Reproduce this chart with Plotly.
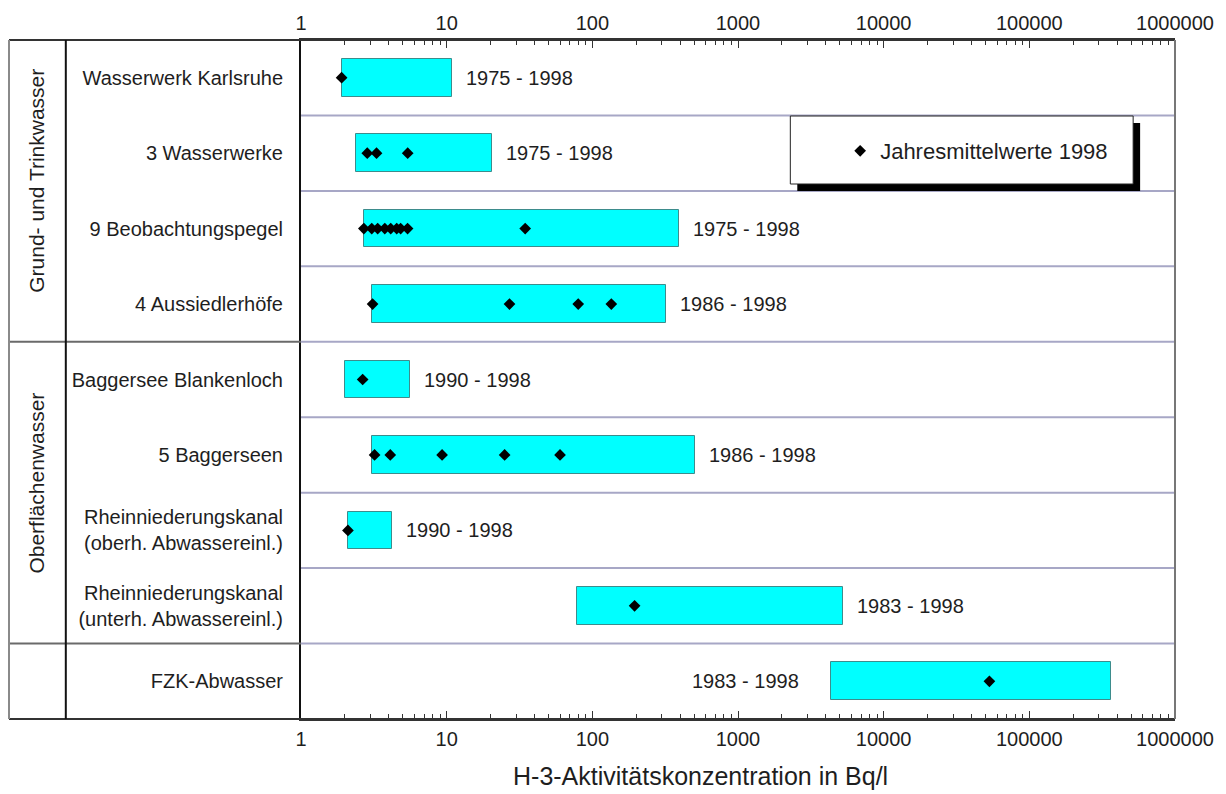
import math
import plotly.graph_objects as go

# Sampling sites (top to bottom)
categories = [
    "Wasserwerk Karlsruhe",
    "3 Wasserwerke",
    "9 Beobachtungspegel",
    "4 Aussiedlerhöfe",
    "Baggersee Blankenloch",
    "5 Baggerseen",
    "Rheinniederungskanal<br>(oberh. Abwassereinl.)",
    "Rheinniederungskanal<br>(unterh. Abwassereinl.)",
    "FZK-Abwasser",
]

# Range of H-3 activity concentrations over the observation period (Bq/l)
range_low = [1.9, 2.4, 2.7, 3.05, 2.0, 3.05, 2.1, 79, 4350]
range_high = [10.8, 20.5, 395, 320, 5.6, 510, 4.2, 5260, 364000]

# Observation periods
periods = [
    "1975 - 1998",
    "1975 - 1998",
    "1975 - 1998",
    "1986 - 1998",
    "1990 - 1998",
    "1986 - 1998",
    "1990 - 1998",
    "1983 - 1998",
    "1983 - 1998",
]

# Annual mean values 1998 per site (Bq/l)
annual_means = [
    [1.9],
    [2.85, 3.3, 5.4],
    [2.7, 3.06, 3.36, 3.76, 4.13, 4.54, 4.83, 5.39, 34.6],
    [3.1, 27, 80, 135],
    [2.65],
    [3.2, 4.1, 9.3, 25, 60],
    [2.1],
    [195],
    [53200],
]

# Site groups: (label, first row, last row)
groups = [
    ("Grund- und Trinkwasser", 0, 3),
    ("Oberflächenwasser", 4, 7),
    ("", 8, 8),
]

decade_ticks = [1, 10, 100, 1000, 10000, 100000, 1000000]
decade_labels = ["1", "10", "100", "1000", "10000", "100000", "1000000"]

legend_name = "Jahresmittelwerte 1998"
axis_title = "H-3-Aktivitätskonzentration in Bq/l"

# ---------------------------------------------------------------- layout frame
W, H = 1226, 794
ML, MR, MT, MB = 301, 48, 40, 75
PW, PH = W - ML - MR, H - MT - MB
FONT = "Liberation Sans, Arial, Helvetica, sans-serif"
TXT = "#1e1e1e"
n = len(categories)


def px_x(px):
    return (px - ML) / PW


def px_y(py):
    return (H - MB - py) / PH


def row_edge(k):
    # paper y of the boundary above row k (k = 0 .. n)
    return 1 - k / n


minor_vals = [m * 10 ** d for d in range(6) for m in range(2, 10)]

fig = go.Figure()

fig.add_trace(go.Bar(
    y=list(range(n)),
    x=[hi - lo for lo, hi in zip(range_low, range_high)],
    base=range_low,
    orientation="h",
    width=0.5,
    marker=dict(color="#00FFFF", line=dict(color="#3d8c8c", width=1)),
    showlegend=False,
    hoverinfo="skip",
))

dot_x, dot_y = [], []
for i, vals in enumerate(annual_means):
    dot_x += vals
    dot_y += [i] * len(vals)

fig.add_trace(go.Scatter(
    x=dot_x,
    y=dot_y,
    mode="markers",
    marker=dict(symbol="diamond", size=9, color="black"),
    name=legend_name,
))

# range end points bound to the top axis so that it is drawn as well
fig.add_trace(go.Scatter(
    x=range_high,
    y=list(range(n)),
    xaxis="x2",
    mode="markers",
    marker=dict(size=1, opacity=0),
    showlegend=False,
    hoverinfo="skip",
))

# ---------------------------------------------------------------- shapes
shapes = []
x_left_outer = px_x(8)
x_divider = px_x(65)

# row separators inside the plot
for k in range(1, n):
    shapes.append(dict(type="line", xref="paper", yref="paper",
                       x0=0, x1=1, y0=row_edge(k), y1=row_edge(k),
                       line=dict(color="#a7a7c6", width=2), layer="below"))

# group separators in the label columns
for _, first, last in groups[:-1]:
    y = row_edge(last + 1)
    shapes.append(dict(type="line", xref="paper", yref="paper",
                       x0=x_left_outer, x1=0, y0=y, y1=y,
                       line=dict(color="#6a6a6a", width=2)))

# outer frame of the label columns
for y in (0, 1):
    shapes.append(dict(type="line", xref="paper", yref="paper",
                       x0=x_left_outer, x1=1, y0=y, y1=y,
                       line=dict(color="#333333", width=2)))
shapes.append(dict(type="line", xref="paper", yref="paper",
                   x0=x_left_outer, x1=x_left_outer, y0=0, y1=1,
                   line=dict(color="#8a8a8a", width=2)))
shapes.append(dict(type="line", xref="paper", yref="paper",
                   x0=x_divider, x1=x_divider, y0=0, y1=1,
                   line=dict(color="#111111", width=2)))
shapes.append(dict(type="line", xref="paper", yref="paper",
                   x0=1, x1=1, y0=0, y1=1,
                   line=dict(color="#777777", width=2)))

# legend box with drop shadow
bx0, bx1, by0, by1 = 792, 1136, 116, 184
sh = 7
shapes.append(dict(type="rect", xref="paper", yref="paper",
                   x0=px_x(bx0 + sh), x1=px_x(bx1 + sh),
                   y0=px_y(by0 + sh), y1=px_y(by1 + sh),
                   fillcolor="black", line=dict(width=0), layer="above"))
shapes.append(dict(type="rect", xref="paper", yref="paper",
                   x0=px_x(bx0), x1=px_x(bx1), y0=px_y(by0), y1=px_y(by1),
                   fillcolor="white", line=dict(color="#222222", width=1),
                   layer="above"))

# ---------------------------------------------------------------- annotations
annotations = []
for i, (lo, hi, txt) in enumerate(zip(range_low, range_high, periods)):
    if hi > 1e5:
        annotations.append(dict(x=math.log10(lo), y=i, xref="x", yref="y",
                                text=txt, showarrow=False, xanchor="right",
                                yanchor="middle", xshift=-30,
                                font=dict(size=20, color=TXT)))
    else:
        annotations.append(dict(x=math.log10(hi), y=i, xref="x", yref="y",
                                text=txt, showarrow=False, xanchor="left",
                                yanchor="middle", xshift=12,
                                font=dict(size=20, color=TXT)))

for name, first, last in groups:
    if not name:
        continue
    yc = (row_edge(first) + row_edge(last + 1)) / 2
    annotations.append(dict(x=px_x(36), y=yc, xref="paper", yref="paper",
                            text=name, textangle=-90, showarrow=False,
                            xanchor="center", yanchor="middle",
                            yshift=10, font=dict(size=21, color=TXT)))

annotations.append(dict(x=px_x(702), y=px_y(776), xref="paper", yref="paper",
                        text=axis_title, showarrow=False,
                        xanchor="center", yanchor="middle",
                        font=dict(size=25, color=TXT)))

log_axis = dict(
    type="log",
    range=[0, 6],
    tickvals=decade_ticks,
    ticktext=decade_labels,
    ticks="inside",
    ticklen=8,
    tickwidth=1,
    tickcolor="#333333",
    minor=dict(tickvals=minor_vals, ticks="inside", ticklen=5,
               tickwidth=1, tickcolor="#333333", showgrid=False),
    showgrid=False,
    zeroline=False,
    showline=True,
    linecolor="#333333",
    linewidth=2,
    tickfont=dict(size=20, color=TXT),
)

fig.update_layout(
    width=W,
    height=H,
    margin=dict(l=ML, r=MR, t=MT, b=MB),
    paper_bgcolor="white",
    plot_bgcolor="white",
    font=dict(family=FONT, size=20, color=TXT),
    xaxis=dict(**log_axis, side="bottom", ticklabelstandoff=1),
    xaxis2=dict(**log_axis, side="top", overlaying="x", anchor="y",
                ticklabelstandoff=0),
    yaxis=dict(
        range=[n - 0.5, -0.5],
        tickvals=list(range(n)),
        ticktext=categories,
        ticks="",
        showgrid=False,
        zeroline=False,
        showline=True,
        linecolor="#111111",
        linewidth=2,
        tickfont=dict(size=20, color=TXT),
        ticklabelstandoff=12,
    ),
    legend=dict(
        x=px_x(842), xanchor="left",
        y=px_y(151), yanchor="middle",
        bgcolor="rgba(0,0,0,0)",
        borderwidth=0,
        font=dict(size=22, color=TXT),
    ),
    shapes=shapes,
    annotations=annotations,
    bargap=0,
)

fig.write_html("out.html")
